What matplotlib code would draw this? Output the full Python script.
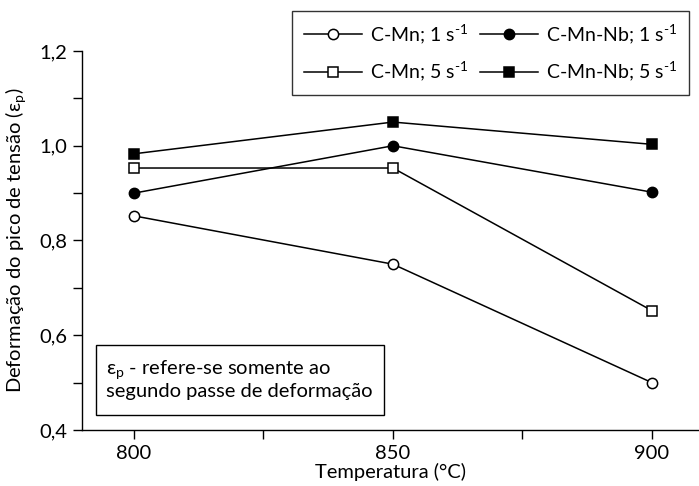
import matplotlib
matplotlib.use("Agg")
import matplotlib.pyplot as plt
from matplotlib.ticker import FixedLocator, FuncFormatter
from matplotlib.patches import Rectangle

plt.rcParams['font.family'] = ['Lato', 'DejaVu Sans']
plt.rcParams['mathtext.default'] = 'regular'

temps = [800, 850, 900]
cmn_1 = [0.852, 0.750, 0.500]
cmnnb_1 = [0.900, 1.000, 0.902]
cmn_5 = [0.953, 0.953, 0.652]
cmnnb_5 = [0.983, 1.050, 1.003]

series = [
    ("C-Mn; 1 s$^{\u20101}$", cmn_1, 'o', 'white'),
    ("C-Mn-Nb; 1 s$^{\u20101}$", cmnnb_1, 'o', 'black'),
    ("C-Mn; 5 s$^{\u20101}$", cmn_5, 's', 'white'),
    ("C-Mn-Nb; 5 s$^{\u20101}$", cmnnb_5, 's', 'black'),
]

W, H = 699, 486
fig = plt.figure(figsize=(W / 100, H / 100), dpi=100)
ax = fig.add_axes([81.7 / W, 1 - 430 / H, (W - 81.7) / W, 379 / H])

handles = []
for label, vals, m, fc in series:
    h, = ax.plot(temps, vals, color='black', lw=1.1, marker=m, markersize=7.4,
                 markerfacecolor=fc, markeredgecolor='black', markeredgewidth=1.1,
                 label=label, clip_on=False)
    handles.append(h)

ax.set_xlim(789.9, 909.1)
ax.set_ylim(0.4, 1.2)
ax.spines['top'].set_visible(False)
ax.spines['right'].set_visible(False)
ax.spines['left'].set_linewidth(1.0)
ax.spines['bottom'].set_linewidth(1.0)

ax.xaxis.set_major_locator(FixedLocator([800, 850, 900]))
ax.xaxis.set_minor_locator(FixedLocator([825, 875]))
ax.yaxis.set_major_locator(FixedLocator([0.4, 0.6, 0.8, 1.0, 1.2]))
ax.yaxis.set_minor_locator(FixedLocator([0.5, 0.7, 0.9, 1.1]))
ax.yaxis.set_major_formatter(FuncFormatter(lambda v, p: f"{v:.1f}".replace('.', ',')))
ax.tick_params(which='both', direction='out', length=6.5, width=1.0, labelsize=14.5)
ax.tick_params(axis='x', pad=4)
ax.tick_params(axis='y', pad=4)

ax.set_xlabel("Temperatura (°C)", fontsize=14.5, labelpad=1)
ax.set_ylabel("Deformação do pico de tensão (ε$_p$)", fontsize=14.5, labelpad=8)

order = [0, 2, 1, 3]
leg = fig.legend([handles[i] for i in order], [series[i][0] for i in order],
                 ncol=2, loc='upper left', bbox_to_anchor=(292 / W, 1 - 11 / H),
                 bbox_transform=fig.transFigure, frameon=True, fancybox=False,
                 edgecolor='black', fontsize=14, handlelength=3.0,
                 columnspacing=0.6, handletextpad=0.4, borderpad=0.6,
                 labelspacing=0.7, borderaxespad=0)
leg.get_frame().set_linewidth(1.0)

rect = Rectangle((96 / W, 1 - 415 / H), (384 - 96) / W, (415 - 345) / H,
                 transform=fig.transFigure, facecolor='white', edgecolor='black',
                 linewidth=1.0)
fig.patches.append(rect)
fig.text(106 / W, 1 - 379 / H,
         "ε$_p$ - refere-se somente ao\nsegundo passe de deformação",
         fontsize=14.5, va='center', ha='left', linespacing=1.15)

fig.savefig("out.png", dpi=100)
